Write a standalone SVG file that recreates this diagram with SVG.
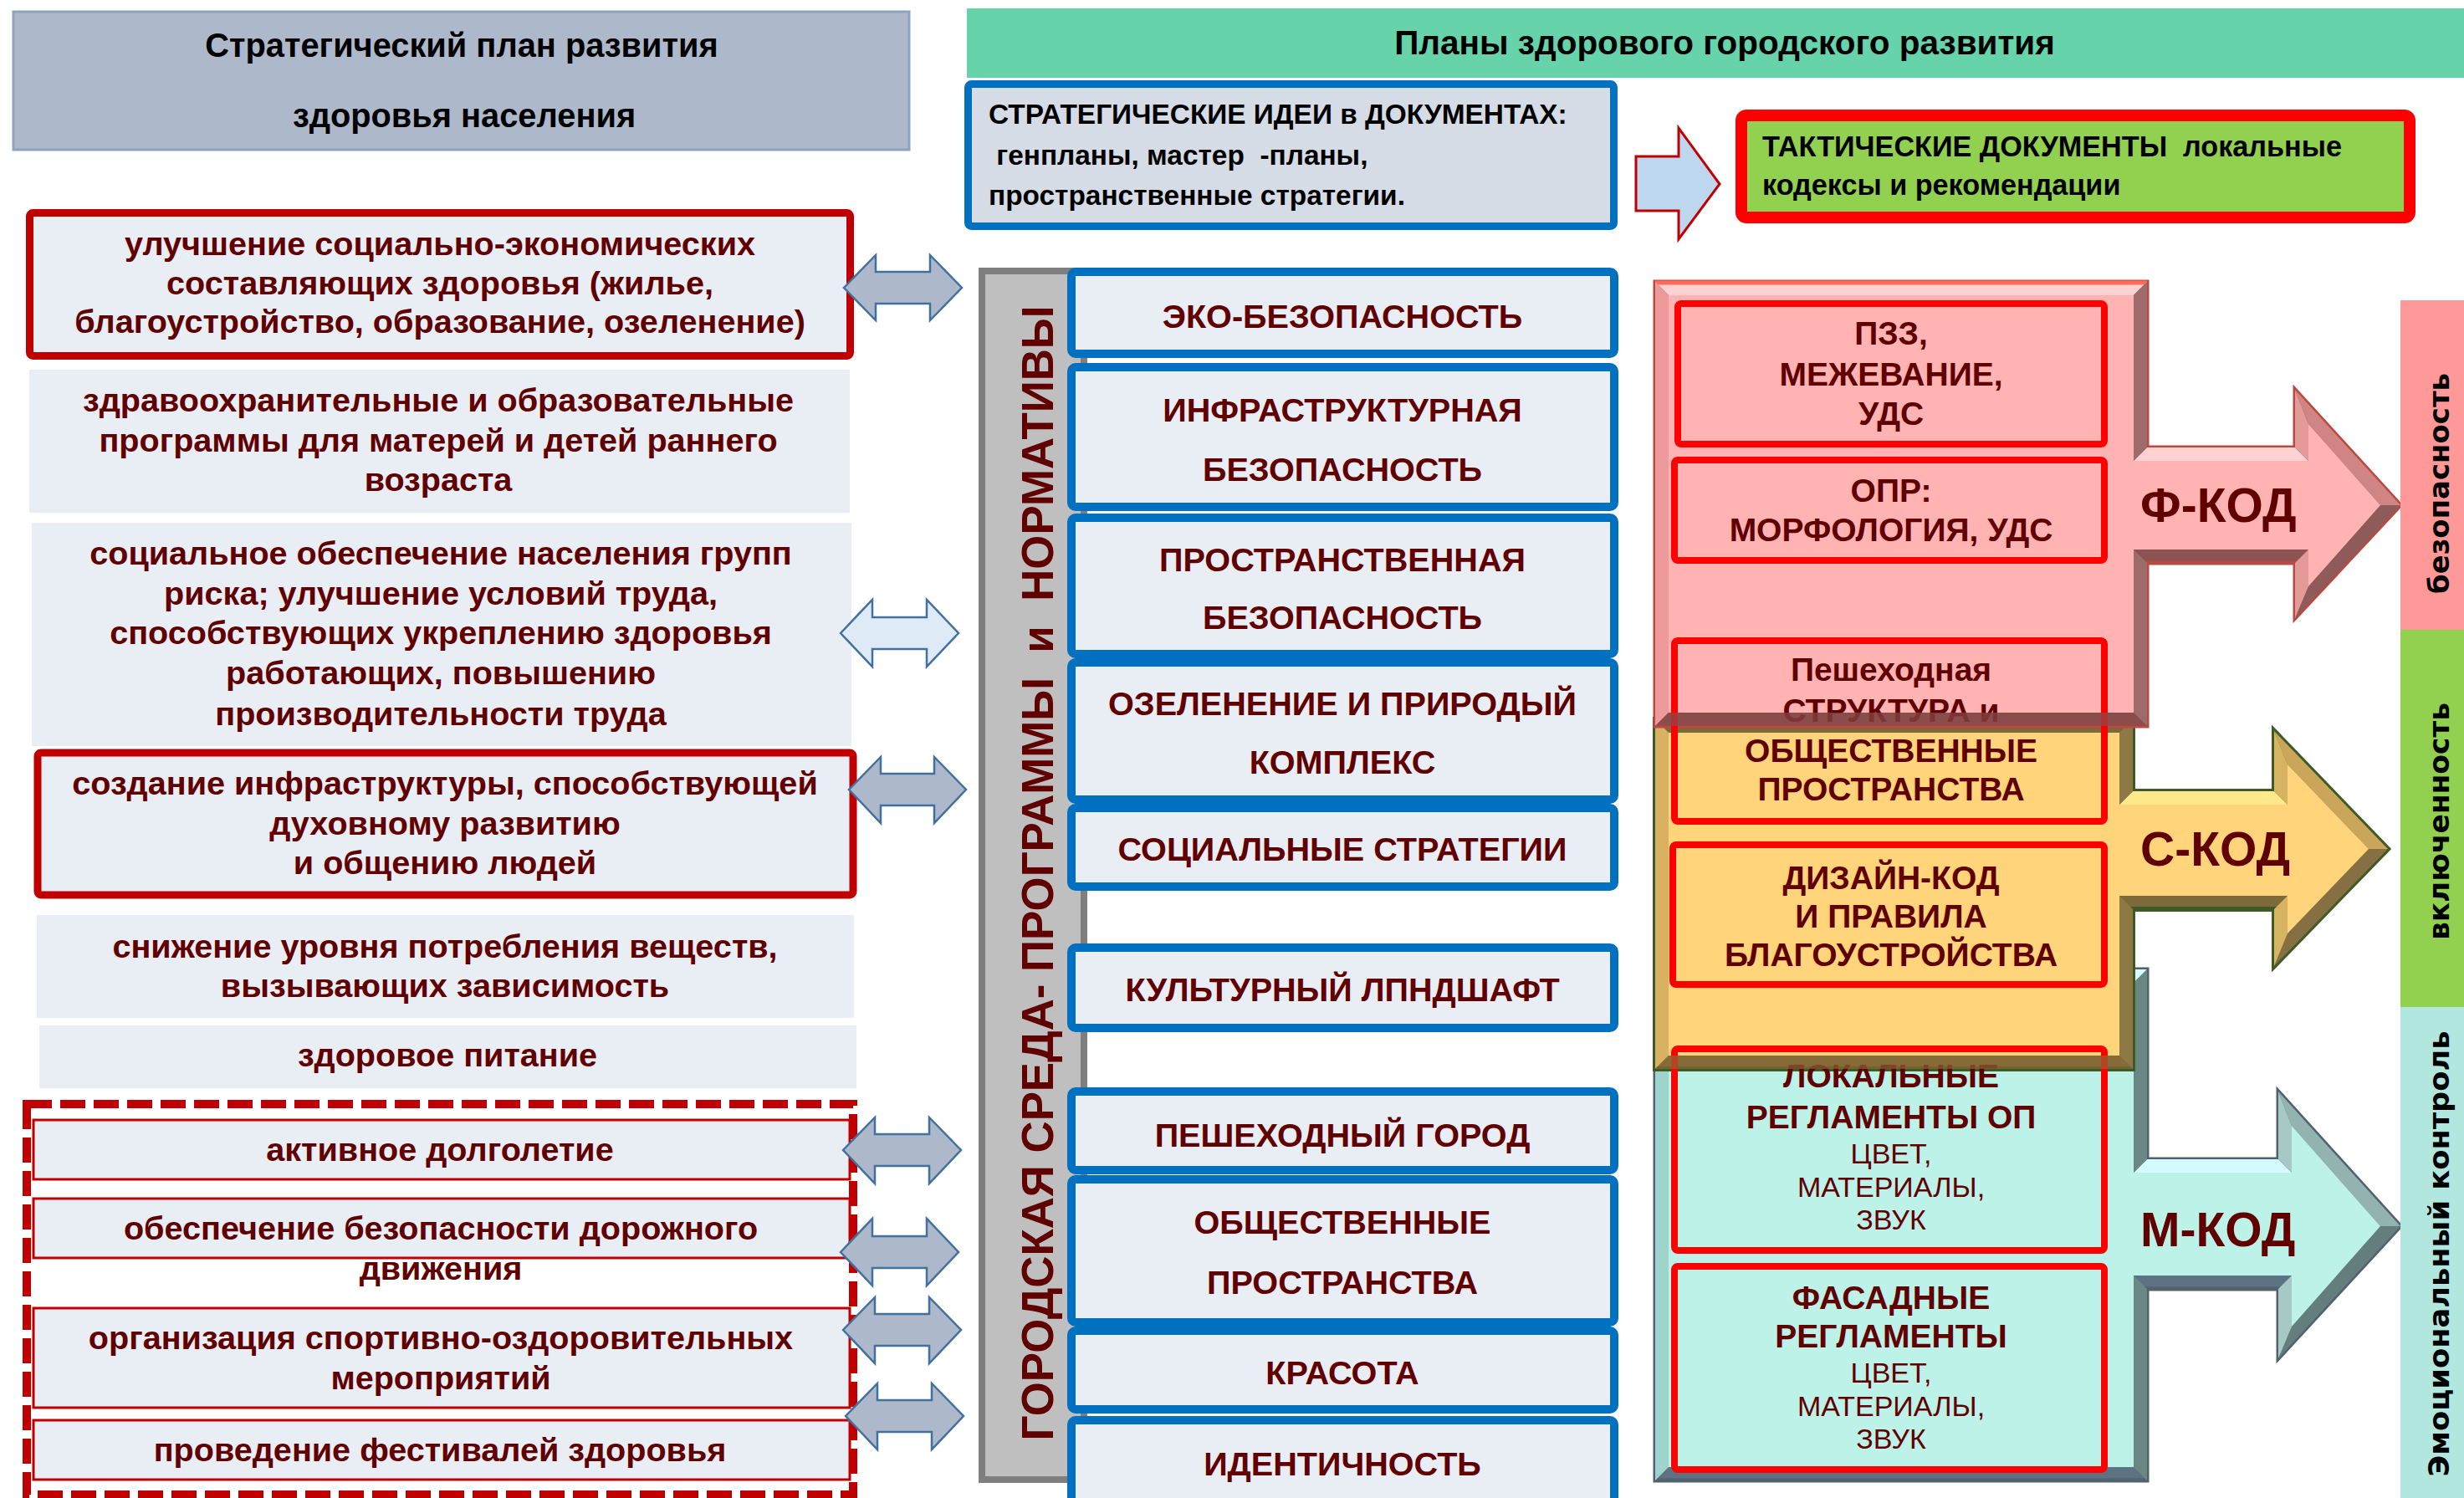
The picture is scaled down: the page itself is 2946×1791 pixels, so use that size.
<svg xmlns="http://www.w3.org/2000/svg" width="2946" height="1791" viewBox="0 0 2946 1791">
<style>
text{font-family:"Liberation Sans",Arial,sans-serif;font-weight:bold}
.lt{font-size:39.6px;fill:#600000;text-anchor:middle}
.ct{font-size:39.6px;fill:#600000;text-anchor:middle}
.rt{font-size:39px;fill:#600000;text-anchor:middle}
.rs{font-size:34px;fill:#600000;text-anchor:middle;font-weight:normal}
.hd{font-size:39.8px;fill:#000;text-anchor:middle}
.bk{font-size:33.4px;fill:#000}
.code{font-size:57px;fill:#600000}
.vs{font-family:"DejaVu Sans",Verdana,sans-serif;font-size:33px;fill:#000;text-anchor:middle}
.lbox{fill:#e9edf4}
.rbox{fill:#e9edf4;stroke:#c00000;stroke-width:9}
.ibox{fill:#e9edf4;stroke:#c00000;stroke-width:3}
.bbox{fill:#e9edf4;stroke:#0070c0;stroke-width:10}
.redf{fill:none;stroke:#ff0000;stroke-width:8}
.darr{stroke:#41719c;stroke-width:2.5;stroke-linejoin:miter}
</style>

<!-- headers -->
<g id="strategic-plan">
<rect x="16" y="14" width="1071" height="165" fill="#adb9ca" stroke="#8ea3c0" stroke-width="3"/>
<text class="hd" x="552" y="68">Стратегический план развития</text>
<text class="hd" x="555" y="152">здоровья населения</text>
</g>
<g id="healthy-plans">
<rect x="1156" y="10" width="1790" height="83" fill="#66d3aa"/>
<text class="hd" x="2062" y="65" style="font-size:40.5px">Планы здорового городского развития</text>
</g>
<g id="strategic-ideas">
<rect x="1157.5" y="100.5" width="772" height="170" rx="4" fill="#d6dce5" stroke="#0070c0" stroke-width="9"/>
<text class="bk" x="1182" y="148">СТРАТЕГИЧЕСКИЕ ИДЕИ в ДОКУМЕНТАХ:</text>
<text class="bk" x="1182" y="197" xml:space="preserve"> генпланы, мастер  -планы,</text>
<text class="bk" x="1182" y="245">пространственные стратегии.</text>
</g>
<g id="tactical-docs">
<rect x="2082" y="138" width="799" height="122" rx="6" fill="#92d050" stroke="#ff0000" stroke-width="14"/>
<text class="bk" x="2107" y="187" xml:space="preserve" style="font-size:34.2px">ТАКТИЧЕСКИЕ ДОКУМЕНТЫ  локальные</text>
<text class="bk" x="2107" y="233" style="font-size:34.2px">кодексы и рекомендации</text>
</g>

<!-- left column -->
<g id="l1">
<rect class="rbox" x="35.5" y="254.5" width="981" height="171" rx="4"/>
<text class="lt" x="526" y="305">улучшение социально-экономических</text>
<text class="lt" x="526" y="352">составляющих здоровья (жилье,</text>
<text class="lt" x="526" y="398">благоустройство, образование, озеленение)</text>
</g>
<g id="l2">
<rect class="lbox" x="35" y="442" width="981" height="171"/>
<text class="lt" x="524" y="492">здравоохранительные и образовательные</text>
<text class="lt" x="524" y="540">программы для матерей и детей раннего</text>
<text class="lt" x="524" y="587">возраста</text>
</g>
<g id="l3">
<rect class="lbox" x="38" y="625" width="980" height="267"/>
<text class="lt" x="527" y="675">социальное обеспечение населения групп</text>
<text class="lt" x="527" y="723">риска; улучшение условий труда,</text>
<text class="lt" x="527" y="770">способствующих укреплению здоровья</text>
<text class="lt" x="527" y="818">работающих, повышению</text>
<text class="lt" x="527" y="867">производительности труда</text>
</g>
<g id="l4">
<rect class="rbox" x="45" y="900" width="975" height="170" rx="4"/>
<text class="lt" x="532" y="950">создание инфраструктуры, способствующей</text>
<text class="lt" x="532" y="998">духовному развитию</text>
<text class="lt" x="532" y="1045">и общению людей</text>
</g>
<g id="l5">
<rect class="lbox" x="44" y="1094" width="977" height="123"/>
<text class="lt" x="532" y="1145">снижение уровня потребления веществ,</text>
<text class="lt" x="532" y="1192">вызывающих зависимость</text>
</g>
<g id="l6">
<rect class="lbox" x="47" y="1226" width="977" height="75"/>
<text class="lt" x="535" y="1275">здоровое питание</text>
</g>
<g id="l-group">
<rect x="32" y="1320" width="988" height="467" fill="none" stroke="#c00000" stroke-width="10" stroke-dasharray="30 10"/>
</g>
<g id="l7">
<rect class="ibox" x="40" y="1339" width="976" height="71"/>
<text class="lt" x="526" y="1388">активное долголетие</text>
</g>
<g id="l8">
<rect class="ibox" x="40" y="1433" width="976" height="71"/>
<text class="lt" x="527" y="1482">обеспечение безопасности дорожного</text>
<text class="lt" x="527" y="1530">движения</text>
</g>
<g id="l9">
<rect class="ibox" x="40" y="1564" width="976" height="119"/>
<text class="lt" x="527" y="1613">организация спортивно-оздоровительных</text>
<text class="lt" x="527" y="1661">мероприятий</text>
</g>
<g id="l10">
<rect class="ibox" x="40" y="1698" width="976" height="71"/>
<text class="lt" x="526" y="1747">проведение фестивалей здоровья</text>
</g>

<!-- central column -->
<g id="urban-env">
<rect x="1174" y="324" width="122" height="1445" fill="#bfbfbf" stroke="#7f7f7f" stroke-width="8"/>
<text transform="translate(1259,1044) rotate(-90)" x="0" y="0" style="font-size:54px;fill:#600000;text-anchor:middle" textLength="1357" lengthAdjust="spacingAndGlyphs" xml:space="preserve">ГОРОДСКАЯ СРЕДА- ПРОГРАММЫ  и  НОРМАТИВЫ</text>
</g>
<g id="c1"><rect class="bbox" x="1281" y="325" width="649" height="98" rx="5"/><text class="ct" x="1605" y="392">ЭКО-БЕЗОПАСНОСТЬ</text></g>
<g id="c2"><rect class="bbox" x="1281" y="439" width="649" height="167" rx="5"/><text class="ct" x="1605" y="504">ИНФРАСТРУКТУРНАЯ</text><text class="ct" x="1605" y="575">БЕЗОПАСНОСТЬ</text></g>
<g id="c3"><rect class="bbox" x="1281" y="619" width="649" height="163" rx="5"/><text class="ct" x="1605" y="683">ПРОСТРАНСТВЕННАЯ</text><text class="ct" x="1605" y="752">БЕЗОПАСНОСТЬ</text></g>
<g id="c4"><rect class="bbox" x="1281" y="792" width="649" height="164" rx="5"/><text class="ct" x="1605" y="855">ОЗЕЛЕНЕНИЕ И ПРИРОДЫЙ</text><text class="ct" x="1605" y="925">КОМПЛЕКС</text></g>
<g id="c5"><rect class="bbox" x="1281" y="966" width="649" height="94" rx="5"/><text class="ct" x="1605" y="1029">СОЦИАЛЬНЫЕ СТРАТЕГИИ</text></g>
<g id="c6"><rect class="bbox" x="1281" y="1133" width="649" height="96" rx="5"/><text class="ct" x="1605" y="1197">КУЛЬТУРНЫЙ ЛПНДШАФТ</text></g>
<g id="c7"><rect class="bbox" x="1281" y="1305" width="649" height="94" rx="5"/><text class="ct" x="1605" y="1371">ПЕШЕХОДНЫЙ ГОРОД</text></g>
<g id="c8"><rect class="bbox" x="1281" y="1410" width="649" height="171" rx="5"/><text class="ct" x="1605" y="1475">ОБЩЕСТВЕННЫЕ</text><text class="ct" x="1605" y="1547">ПРОСТРАНСТВА</text></g>
<g id="c9"><rect class="bbox" x="1281" y="1591" width="649" height="94" rx="5"/><text class="ct" x="1605" y="1655">КРАСОТА</text></g>
<g id="c10"><rect class="bbox" x="1281" y="1698" width="649" height="120" rx="5"/><text class="ct" x="1605" y="1764">ИДЕНТИЧНОСТЬ</text></g>

<!-- right panel: teal (M-code) -->
<g id="m-code">
<polygon points="1979,1159 2567,1159 2567,1386 2724,1386 2724,1305 2870,1466 2724,1624 2724,1541 2567,1541 2567,1770 1979,1770" fill="#5d7282" stroke="#52616f" stroke-width="5" stroke-linejoin="miter"/>
<polygon points="1979,1159 2567,1159 2551,1175 1995,1175" fill="#d7fbff"/>
<polygon points="2567,1386 2724,1386 2740,1402 2551,1402" fill="#d4fbff"/>
<polygon points="2724,1386 2724,1305 2740,1346 2740,1402" fill="#a6c9c5"/>
<polygon points="2724,1305 2870,1466 2846,1466 2740,1346" fill="#93b3af"/>
<polygon points="2870,1466 2724,1624 2740,1586 2846,1466" fill="#647e7e"/>
<polygon points="2724,1624 2724,1541 2740,1525 2740,1586" fill="#a6c9c5"/>
<polygon points="2567,1159 2567,1386 2551,1402 2551,1175" fill="#6b8783"/>
<polygon points="2567,1541 2567,1770 2551,1754 2551,1525" fill="#6b8783"/>
<polygon points="1979,1770 1979,1159 1995,1175 1995,1754" fill="#9fd4cd"/>
<polygon points="1995,1175 2551,1175 2551,1402 2740,1402 2740,1346 2846,1466 2740,1586 2740,1525 2551,1525 2551,1754 1995,1754" fill="#bdf2e9"/>
</g>
<!-- orange (C-code) -->
<g id="c-code">
<polygon points="1979,860 2550,860 2550,946 2719,946 2719,874 2855,1015 2719,1155 2719,1087 2550,1087 2550,1278 1979,1278" fill="#7d6a3a" stroke="#3f5a24" stroke-width="6" stroke-linejoin="miter"/>
<polygon points="2550,946 2719,946 2735,962 2534,962" fill="#ffe98a"/>
<polygon points="2719,946 2719,874 2735,914 2735,962" fill="#d6b462"/>
<polygon points="2719,874 2855,1015 2832,1015 2735,914" fill="#c9a65a"/>
<polygon points="2855,1015 2719,1155 2735,1116 2832,1015" fill="#867043"/>
<polygon points="2719,1155 2719,1087 2735,1071 2735,1116" fill="#d6b462"/>
<polygon points="2550,860 2550,946 2534,962 2534,876" fill="#8e7844"/>
<polygon points="2550,1087 2550,1278 2534,1262 2534,1071" fill="#8e7844"/>
<polygon points="1979,1278 1979,860 1995,876 1995,1262" fill="#d8b163"/>
<polygon points="1995,876 2534,876 2534,962 2735,962 2735,914 2832,1015 2735,1116 2735,1071 2534,1071 2534,1262 1995,1262" fill="#ffd47b"/>
</g>
<!-- pink (F-code) -->
<g id="f-code">
<polygon points="1979,337 2567,337 2567,535 2744,535 2744,466 2870,604 2744,739 2744,673 2567,673 2567,868 1979,868" fill="#8d5252" stroke="#b94a42" stroke-width="5" stroke-linejoin="miter"/>
<polygon points="1979,337 2567,337 2551,353 1995,353" fill="#ffd2d2"/>
<line x1="1979" y1="338" x2="2567" y2="338" stroke="#ff6b5b" stroke-width="5"/>
<polygon points="2567,535 2744,535 2760,551 2551,551" fill="#ffd2d2"/>
<polygon points="2744,535 2744,466 2760,507 2760,551" fill="#e59a9a"/>
<polygon points="2744,466 2870,604 2846,604 2760,507" fill="#d08585"/>
<polygon points="2870,604 2744,739 2760,701 2846,604" fill="#8f5a5a"/>
<polygon points="2744,739 2744,673 2760,657 2760,701" fill="#e59a9a"/>
<polygon points="2567,337 2567,535 2551,551 2551,353" fill="#9e6b6b"/>
<polygon points="2567,673 2567,868 2551,852 2551,657" fill="#9e6b6b"/>
<polygon points="1979,868 1979,337 1995,353 1995,852" fill="#ec9a9a"/>
<polygon points="1995,353 2551,353 2551,551 2760,551 2760,507 2846,604 2760,701 2760,657 2551,657 2551,852 1995,852" fill="#ffb3b3"/>
</g>

<g id="r-pzz"><rect class="redf" x="2006" y="363" width="510" height="168" rx="4"/><text class="rt" x="2261" y="412">ПЗЗ,</text><text class="rt" x="2261" y="461">МЕЖЕВАНИЕ,</text><text class="rt" x="2261" y="508">УДС</text></g>
<g id="r-opr"><rect class="redf" x="2002" y="550" width="514" height="120" rx="4"/><text class="rt" x="2261" y="600">ОПР:</text><text class="rt" x="2261" y="647">МОРФОЛОГИЯ, УДС</text></g>
<g id="r-ped"><rect class="redf" x="2002" y="766" width="514" height="216" rx="4"/><text class="rt" x="2261" y="814">Пешеходная</text><text class="rt" x="2261" y="863">СТРУКТУРА и</text><text class="rt" x="2261" y="911">ОБЩЕСТВЕННЫЕ</text><text class="rt" x="2261" y="957">ПРОСТРАНСТВА</text></g>
<g id="r-design"><rect class="redf" x="2000" y="1010" width="516" height="167" rx="4"/><text class="rt" x="2261" y="1063">ДИЗАЙН-КОД</text><text class="rt" x="2261" y="1109">И ПРАВИЛА</text><text class="rt" x="2261" y="1155">БЛАГОУСТРОЙСТВА</text></g>
<g id="r-local"><rect class="redf" x="2002" y="1254" width="514" height="241" rx="4"/><text class="rt" x="2261" y="1300">ЛОКАЛЬНЫЕ</text><text class="rt" x="2261" y="1349">РЕГЛАМЕНТЫ ОП</text><text class="rs" x="2261" y="1391">ЦВЕТ,</text><text class="rs" x="2261" y="1431">МАТЕРИАЛЫ,</text><text class="rs" x="2261" y="1470">ЗВУК</text></g>
<g id="r-facade"><rect class="redf" x="2002" y="1514" width="514" height="243" rx="4"/><text class="rt" x="2261" y="1565">ФАСАДНЫЕ</text><text class="rt" x="2261" y="1611">РЕГЛАМЕНТЫ</text><text class="rs" x="2261" y="1653">ЦВЕТ,</text><text class="rs" x="2261" y="1693">МАТЕРИАЛЫ,</text><text class="rs" x="2261" y="1732">ЗВУК</text></g>

<!-- translucent bottom bevels overlapping -->
<polygon points="2567,868 1979,868 1995,852 2551,852" fill="#8a4a4a" opacity="0.7"/>
<polygon points="2550,1278 1979,1278 1995,1262 2534,1262" fill="#8c6a35" opacity="0.65"/>

<text class="code" x="2559" y="624">Ф-КОД</text>
<text class="code" x="2559" y="1035">С-КОД</text>
<text class="code" x="2559" y="1490">М-КОД</text>

<!-- right strip -->
<g id="safety"><rect x="2870" y="359" width="76" height="394" fill="#ff9999"/><text class="vs" transform="translate(2928,578) rotate(-90)" textLength="264" lengthAdjust="spacingAndGlyphs">безопасность</text></g>
<g id="inclusion"><rect x="2870" y="753" width="76" height="451" fill="#92d050"/><text class="vs" transform="translate(2928,982) rotate(-90)" textLength="284" lengthAdjust="spacingAndGlyphs">включенность</text></g>
<g id="emotion"><rect x="2870" y="1204" width="76" height="587" fill="#b1e7de"/><text class="vs" transform="translate(2928,1499) rotate(-90)" textLength="533" lengthAdjust="spacingAndGlyphs">Эмоциональный контроль</text></g>

<!-- connectors -->
<g id="connectors">
<polygon points="1956,187 2007,187 2007,153 2056,220 2007,286 2007,252 1956,252" fill="#bdd7ee" stroke="#c00000" stroke-width="3"/>
<polygon class="darr" fill="#adb9ca" points="1009,344 1047,305 1047,325 1112,325 1112,305 1150,344 1112,383 1112,363 1047,363 1047,383"/>
<polygon class="darr" fill="#deebf7" points="1005,757 1043,717 1043,738 1108,738 1108,717 1146,757 1108,797 1108,776 1043,776 1043,797"/>
<polygon class="darr" fill="#adb9ca" points="1015,944 1053,905 1053,925 1117,925 1117,905 1155,944 1117,984 1117,963 1053,963 1053,984"/>
<polygon class="darr" fill="#adb9ca" points="1008,1375 1046,1336 1046,1356 1111,1356 1111,1336 1149,1375 1111,1415 1111,1394 1046,1394 1046,1415"/>
<polygon class="darr" fill="#adb9ca" points="1005,1497 1043,1457 1043,1478 1108,1478 1108,1457 1146,1497 1108,1537 1108,1516 1043,1516 1043,1537"/>
<polygon class="darr" fill="#adb9ca" points="1008,1590 1046,1551 1046,1571 1111,1571 1111,1551 1149,1590 1111,1630 1111,1609 1046,1609 1046,1630"/>
<polygon class="darr" fill="#adb9ca" points="1011,1693 1049,1654 1049,1674 1114,1674 1114,1654 1152,1693 1114,1733 1114,1712 1049,1712 1049,1733"/>
</g>
</svg>
